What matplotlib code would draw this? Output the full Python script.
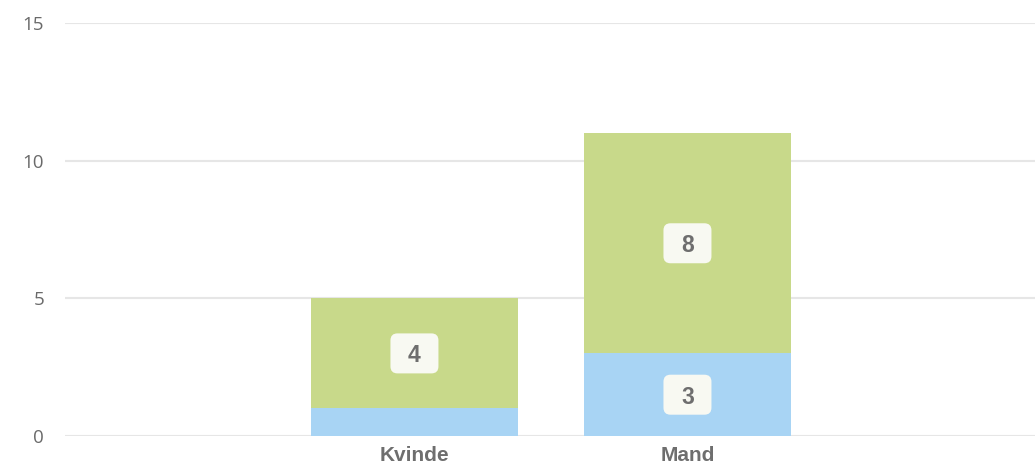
import numpy as np
import matplotlib.pyplot as plt
from matplotlib.patches import FancyBboxPatch
from matplotlib.transforms import Affine2D

categories = ["Kvinde", "Mand"]
blue_vals = [1, 3]
green_vals = [4, 8]
yticks = [0, 5, 10, 15]

blue_color = "#a8d4f4"
green_color = "#c8d98a"
text_grey = "#6e6e6e"

fig = plt.figure(figsize=(10.35, 4.68), dpi=100)
ax = fig.add_axes([65 / 1035, 1 - 436 / 468, 1 - 65 / 1035, (436 - 23) / 468])

x = np.arange(len(categories))
width = 0.758
b1 = ax.bar(x, blue_vals, width, color=blue_color, zorder=2)
b2 = ax.bar(x, green_vals, width, bottom=blue_vals, color=green_color, zorder=2)

ax.set_xlim(-1.28, 2.273)
ax.set_ylim(0, 15)

# value badges: fixed-size rounded boxes in pixels around each label
box_w, box_h = 48, 40
for bars, bottoms in ((b1, [0, 0]), (b2, blue_vals)):
    for rect, base in zip(bars, bottoms):
        h = rect.get_height()
        if h < 2:
            continue
        cx = rect.get_x() + rect.get_width() / 2
        cy = base + h / 2
        px, py = ax.transData.transform((cx, cy))
        badge = FancyBboxPatch((-box_w / 2, -box_h / 2), box_w, box_h,
                               boxstyle="round,pad=0,rounding_size=7",
                               fc="#f8f9f2", ec="none", zorder=3,
                               transform=Affine2D().translate(px, py))
        ax.add_artist(badge)
        ax.text(cx, cy, f"{h:g}", ha="center", va="center_baseline", fontsize=16.5,
                fontweight="bold", color=text_grey, family="Liberation Sans",
                zorder=4)

ax.set_yticks(yticks)
ax.set_yticklabels([str(t) for t in yticks], fontsize=13.5, color="#6a6a6a",
                   family="Open Sans")
ax.set_xticks(x)
ax.set_xticklabels(categories, fontsize=15, fontweight="bold", color=text_grey,
                   family="Liberation Sans")
ax.tick_params(axis="both", length=0)
ax.tick_params(axis="y", pad=15)
ax.tick_params(axis="x", pad=7.5)
ax.yaxis.grid(True, color="#e6e6e6", linewidth=1.5, zorder=0)
ax.set_axisbelow(True)
for s in ax.spines.values():
    s.set_visible(False)

fig.savefig("out.png", dpi=100)
